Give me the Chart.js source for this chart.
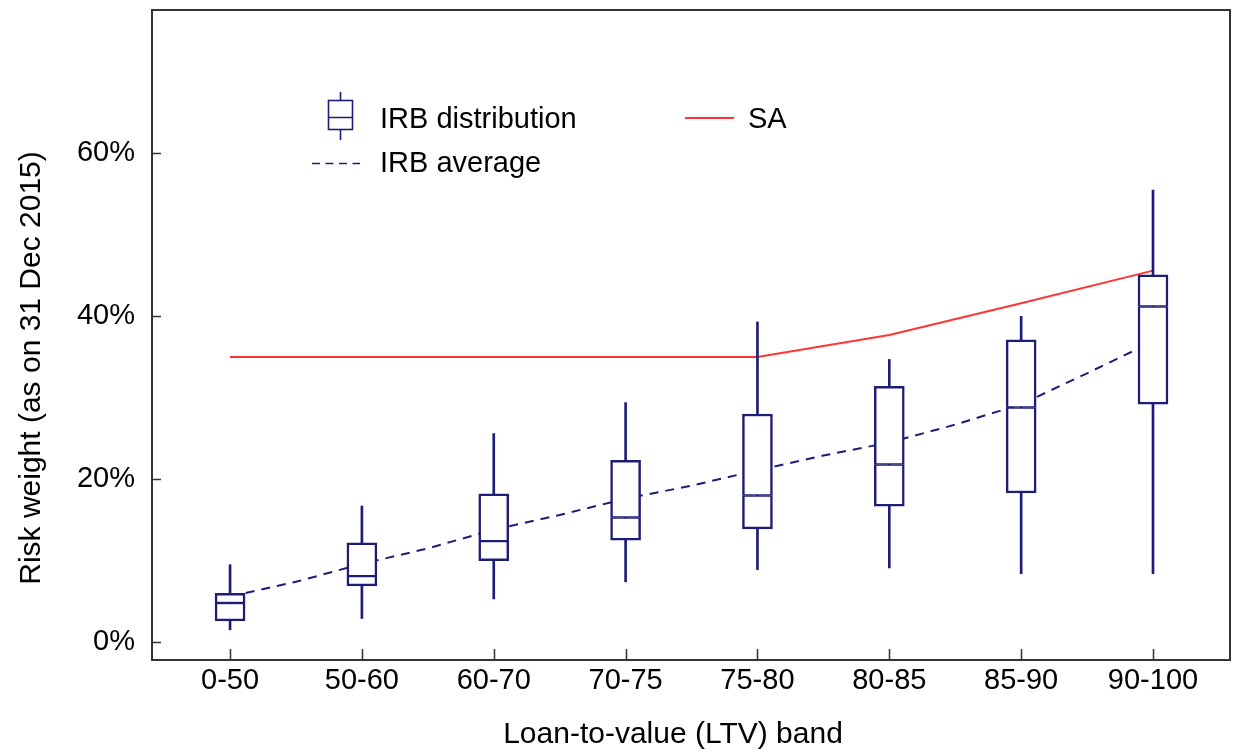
<!DOCTYPE html>
<html>
<head>
<meta charset="utf-8">
<script src="https://cdn.jsdelivr.net/npm/chart.js@4.4.0/dist/chart.umd.min.js"></script>
<style>
  body { margin: 0; background: #fff; }
</style>
</head>
<body>
<canvas id="chart" width="1233" height="752" style="width:1233px;height:752px"></canvas>
<script>
// LTV bands and the IRB risk weight distribution (in %)
const bands = ['0-50', '50-60', '60-70', '70-75', '75-80', '80-85', '85-90', '90-100'];
const whiskerLow  = [1.5, 2.9, 5.3, 7.4, 8.9, 9.1, 8.4, 8.4];
const q1          = [2.6, 6.9, 10.0, 12.5, 13.9, 16.7, 18.3, 29.2];
const median      = [4.8, 8.1, 12.4, 15.3, 18.0, 21.8, 28.8, 41.2];
const q3          = [6.0, 12.2, 18.2, 22.3, 28.0, 31.4, 37.1, 45.1];
const whiskerHigh = [9.5, 16.7, 25.6, 29.4, 39.3, 34.7, 40.0, 55.5];

// standardised approach risk weight per band
const saWeight = [35.0, 35.0, 35.0, 35.0, 35.0, 37.7, 41.6, 45.6];

// IRB average, read at every half band
const avgPos = [0, 0.5, 1, 1.5, 2, 2.5, 3, 3.5, 4, 4.5, 5, 5.5, 6, 6.5, 7];
const irbAvg = [5.6, 7.4, 9.6, 11.5, 13.8, 15.6, 17.6, 19.2, 21.1, 22.9, 24.5, 26.7, 29.2, 33.0, 36.9];

const yTicks = [0, 20, 40, 60];

const navy = '#1d1d76';
const red = '#ff3535';
const axisColor = '#333333';
const fontFamily = '"Liberation Sans", Arial, sans-serif';

const boxLower = bands.map((b, i) => ({ x: i, y: [q1[i], median[i]] }));
const boxUpper = bands.map((b, i) => ({ x: i, y: [median[i], q3[i]] }));
const whiskers = bands.map((b, i) => ({ x: i, y: [whiskerLow[i], whiskerHigh[i]] }));
const saLine = bands.map((b, i) => ({ x: i, y: saWeight[i] }));
const avgLine = avgPos.map((p, i) => ({ x: p, y: irbAvg[i] }));

// frame, inward ticks, axis titles and the legend
const frameAndLegend = {
  id: 'frameAndLegend',
  afterDraw(chart) {
    const { ctx, chartArea: a, scales: { x, y } } = chart;
    ctx.save();

    ctx.strokeStyle = axisColor;
    ctx.lineWidth = 1.5;
    ctx.beginPath();
    yTicks.forEach(v => {
      const py = Math.round(y.getPixelForValue(v)) + 0.5;
      ctx.moveTo(a.left, py);
      ctx.lineTo(a.left + 9, py);
    });
    bands.forEach((b, i) => {
      const px = Math.round(x.getPixelForValue(i)) + 0.5;
      ctx.moveTo(px, a.bottom);
      ctx.lineTo(px, a.bottom - 11);
    });
    ctx.stroke();
    ctx.lineWidth = 2;
    ctx.strokeRect(a.left, a.top, a.right - a.left, a.bottom - a.top);

    // axis titles
    ctx.fillStyle = '#000';
    ctx.font = '30px ' + fontFamily;
    ctx.textAlign = 'center';
    ctx.textBaseline = 'alphabetic';
    ctx.fillText('Loan-to-value (LTV) band', 673, 743);
    ctx.save();
    ctx.translate(40, 368);
    ctx.rotate(-Math.PI / 2);
    ctx.fillText('Risk weight (as on 31 Dec 2015)', 0, 0);
    ctx.restore();

    // legend glyphs
    ctx.strokeStyle = navy;
    ctx.lineWidth = 1.6;
    ctx.beginPath();
    ctx.moveTo(340.5, 92); ctx.lineTo(340.5, 100);
    ctx.moveTo(340.5, 129.5); ctx.lineTo(340.5, 140);
    ctx.moveTo(328.5, 117.5); ctx.lineTo(352.5, 117.5);
    ctx.stroke();
    ctx.strokeRect(328.5, 100.5, 24, 29);

    ctx.setLineDash([8, 5.5]);
    ctx.beginPath();
    ctx.moveTo(312, 163.5); ctx.lineTo(360, 163.5);
    ctx.stroke();
    ctx.setLineDash([]);

    ctx.strokeStyle = red;
    ctx.lineWidth = 2;
    ctx.beginPath();
    ctx.moveTo(685, 118); ctx.lineTo(734, 118);
    ctx.stroke();

    ctx.fillStyle = '#000';
    ctx.font = '29px ' + fontFamily;
    ctx.textAlign = 'left';
    ctx.fillText('IRB distribution', 380, 128);
    ctx.fillText('IRB average', 380, 172);
    ctx.fillText('SA', 748, 127.5);

    ctx.restore();
  }
};

new Chart(document.getElementById('chart'), {
  type: 'bar',
  data: {
    datasets: [
      {
        label: 'IRB distribution (upper)',
        data: boxUpper,
        grouped: false,
        barThickness: 30,
        backgroundColor: '#ffffff',
        borderColor: navy,
        borderSkipped: false,
        borderWidth: { top: 2.5, bottom: 1.5, left: 2.5, right: 2.5 },
        order: 1
      },
      {
        label: 'IRB distribution (lower)',
        data: boxLower,
        grouped: false,
        barThickness: 30,
        backgroundColor: '#ffffff',
        borderColor: navy,
        borderSkipped: false,
        borderWidth: { top: 1.5, bottom: 2.5, left: 2.5, right: 2.5 },
        order: 1
      },
      {
        label: 'whiskers',
        data: whiskers,
        grouped: false,
        barThickness: 2,
        backgroundColor: navy,
        borderWidth: 0,
        order: 2
      },
      {
        type: 'line',
        label: 'SA',
        data: saLine,
        borderColor: red,
        borderWidth: 2,
        pointRadius: 0,
        fill: false,
        tension: 0,
        order: 3
      },
      {
        type: 'line',
        label: 'IRB average',
        data: avgLine,
        borderColor: navy,
        borderWidth: 2,
        borderDash: [9, 7],
        pointRadius: 0,
        fill: false,
        tension: 0,
        order: 4
      }
    ]
  },
  options: {
    responsive: false,
    animation: false,
    layout: { padding: { top: 10, right: 3, left: 0, bottom: 0 } },
    plugins: {
      legend: { display: false },
      tooltip: { enabled: false }
    },
    scales: {
      x: {
        type: 'linear',
        offset: false,
        min: -0.592,
        max: 7.584,
        grid: { display: false, drawTicks: false },
        border: { display: false },
        afterBuildTicks: scale => { scale.ticks = bands.map((b, i) => ({ value: i })); },
        afterFit: scale => {
          scale.height = 92;
          scale.paddingLeft = 0;
          scale.paddingRight = 0;
        },
        ticks: {
          color: '#000',
          padding: 4,
          maxRotation: 0,
          autoSkip: false,
          font: { family: fontFamily, size: 29 },
          callback: v => bands[v]
        }
      },
      y: {
        min: -2.2,
        max: 77.6,
        grid: { display: false, drawTicks: false },
        border: { display: false },
        afterBuildTicks: scale => { scale.ticks = yTicks.map(v => ({ value: v })); },
        afterFit: scale => {
          scale.width = 152;
          scale.paddingTop = 0;
          scale.paddingBottom = 0;
        },
        ticks: {
          color: '#000',
          padding: 17,
          font: { family: fontFamily, size: 29 },
          callback: v => v + '%'
        }
      }
    }
  },
  plugins: [frameAndLegend]
});
</script>
</body>
</html>
